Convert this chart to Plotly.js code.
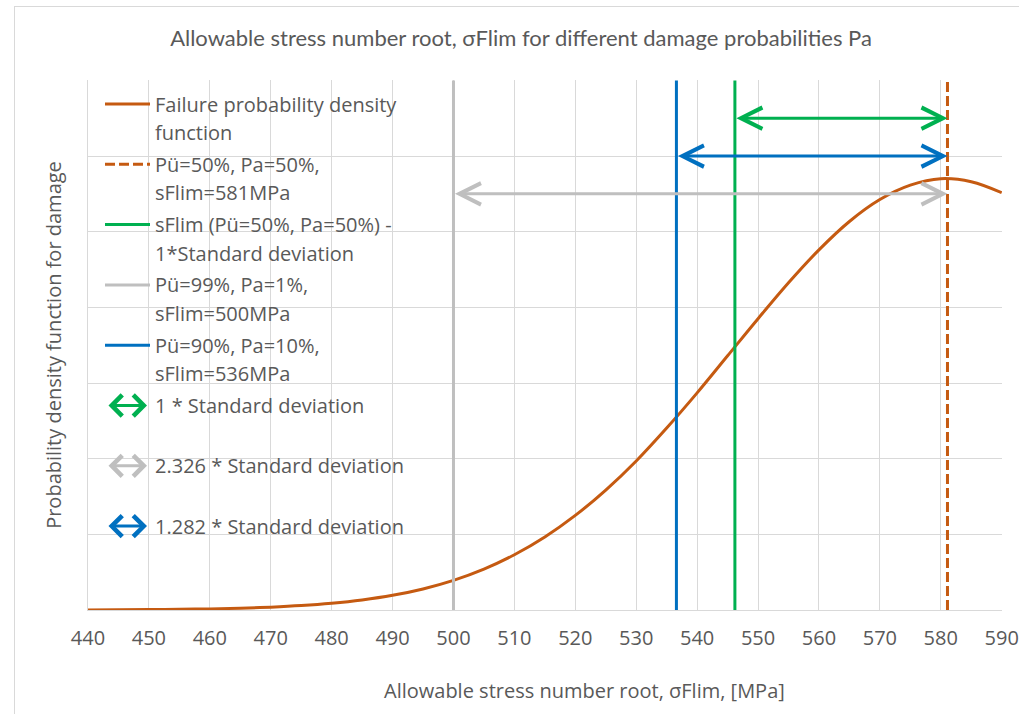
<!DOCTYPE html>
<html>
<head>
<meta charset="utf-8">
<script src="https://cdn.plot.ly/plotly-3.0.1.min.js"></script>
<style>
html, body { margin: 0; padding: 0; background: #ffffff; overflow: hidden; }
#chart { width: 1019px; height: 714px; }
#frame { position: absolute; left: 14px; top: 6px; width: 1100px; height: 800px; border: 1.5px solid #d9d9d9; pointer-events: none; }
</style>
</head>
<body>
<div id="chart"></div>
<div id="frame"></div>
<script>
// ---- data ----
const stressMPa = [440,445,450,455,460,465,470,475,480,485,490,495,500,505,510,515,520,525,530,535,540,545,550,555,560,565,570,575,580,585,590];
const densityValues = [0.000003,0.000006,0.000010,0.000018,0.000029,0.000047,0.000075,0.000116,0.000177,0.000265,0.000388,0.000557,0.000783,0.00108,0.00146,0.00193,0.00250,0.00317,0.00394,0.00481,0.00574,0.00672,0.00770,0.00865,0.00952,0.01027,0.01085,0.01123,0.01140,0.01132,0.01103];

const refLineNames = ["Pü=50%, Pa=50%, sFlim=581MPa", "sFlim (Pü=50%, Pa=50%) - 1*Standard deviation", "Pü=99%, Pa=1%, sFlim=500MPa", "Pü=90%, Pa=10%, sFlim=536MPa"];
const refLineX = [581.1, 546.2, 500.0, 536.6];
const refLineY = [0, 0.014];

const arrowNames = ["1 * Standard deviation", "1.282 * Standard deviation", "2.326 * Standard deviation"];
const arrowStartX = [546.2, 536.6, 500.0];
const arrowEndX = [581.1, 581.1, 581.1];
const arrowY = [0.013, 0.012, 0.011];

const xTickVals = [440,450,460,470,480,490,500,510,520,530,540,550,560,570,580,590];
const yGridVals = [0,0.002,0.004,0.006,0.008,0.010,0.012,0.014];

const legendLine1 = ["Failure probability density", "Pü=50%, Pa=50%,", "sFlim (Pü=50%, Pa=50%) -", "Pü=99%, Pa=1%,", "Pü=90%, Pa=10%,", "1 * Standard deviation", "2.326 * Standard deviation", "1.282 * Standard deviation"];
const legendLine2 = ["function", "sFlim=581MPa", "1*Standard deviation", "sFlim=500MPa", "sFlim=536MPa", "", "", ""];

const chartTitle = "Allowable stress number root, σFlim for different damage probabilities Pa";
const xTitle = "Allowable stress number root, σFlim, [MPa]";
const yTitle = "Probability density function for damage";

// ---- styles ----
const ORANGE = "#C55A11", GREEN = "#00B050", GRAY = "#BFBFBF", BLUE = "#0070C0";
const TEXT = "#595959", GRID = "#D9D9D9";
const FONT = "Open Sans, Noto Sans, sans-serif";
const refLineColors = [ORANGE, GREEN, GRAY, BLUE];
const refLineDash = ["10px,4px", "solid", "solid", "solid"];
const arrowColors = [GREEN, BLUE, GRAY];

const legendKinds = ["line","line","line","line","line","arrow","arrow","arrow"];
const legendColors = [ORANGE, ORANGE, GREEN, GRAY, BLUE, GREEN, GRAY, BLUE];
const legendDash = ["solid","10px,4px","solid","solid","solid","solid","solid","solid"];

// plot area in pixels
const L = 88, R = 1002, T = 80, B = 610, W = 1019, H = 714;
const px = v => (v - L) / (R - L);
const py = v => (B - v) / (B - T);

const traces = [{
  x: stressMPa, y: densityValues, type: "scatter", mode: "lines",
  name: "Failure probability density function",
  line: { color: ORANGE, width: 3, shape: "spline", smoothing: 1 },
  showlegend: false, hoverinfo: "x+y"
}];
refLineX.forEach((xv, i) => {
  traces.push({
    x: [xv, xv], y: refLineY, type: "scatter", mode: "lines", name: refLineNames[i],
    line: { color: refLineColors[i], width: 3, dash: refLineDash[i] },
    showlegend: false, hoverinfo: "name"
  });
});

const shapes = [];
const annotations = [];

// legend background
shapes.push({ type: "rect", xref: "paper", yref: "paper", x0: px(89), x1: px(421), y0: py(546), y1: py(86),
  fillcolor: "#ffffff", line: { width: 0 }, layer: "between" });

// data arrows
arrowY.forEach((yv, i) => {
  annotations.push({
    xref: "x", yref: "y", axref: "x", ayref: "y",
    x: arrowEndX[i], y: yv, ax: arrowStartX[i], ay: yv,
    text: "", showarrow: true, arrowside: "end+start",
    arrowhead: 5, startarrowhead: 5, arrowsize: 1.4, startarrowsize: 1.4,
    arrowwidth: 3, arrowcolor: arrowColors[i], standoff: 0, startstandoff: 0,
    font: { size: 1 }
  });
});

// manual legend
legendLine1.forEach((t, i) => {
  const rowY = 104 + i * 60.3;
  if (legendKinds[i] === "line") {
    shapes.push({ type: "line", xref: "paper", yref: "paper", x0: px(105), x1: px(150), y0: py(rowY), y1: py(rowY),
      line: { color: legendColors[i], width: 3, dash: legendDash[i] }, layer: "above" });
  } else {
    annotations.push({ xref: "paper", yref: "paper", x: px(147), y: py(rowY), ax: -40, ay: 0,
      text: "", showarrow: true, arrowside: "end+start", arrowhead: 4, startarrowhead: 4,
      arrowsize: 1.35, startarrowsize: 1.35, arrowwidth: 3, arrowcolor: legendColors[i],
      standoff: 0, startstandoff: 0, font: { size: 1 } });
  }
  annotations.push({ xref: "paper", yref: "paper", x: px(153), y: py(rowY), xanchor: "left", yanchor: "middle",
    text: t, showarrow: false, font: { family: FONT, size: 20, color: TEXT } });
  if (legendLine2[i]) {
    annotations.push({ xref: "paper", yref: "paper", x: px(153), y: py(rowY + 28.5), xanchor: "left", yanchor: "middle",
      text: legendLine2[i], showarrow: false, font: { family: FONT, size: 20, color: TEXT } });
  }
});

// x axis title (placed as in reference)
annotations.push({ xref: "paper", yref: "paper", x: px(584), y: py(690), xanchor: "center", yanchor: "middle",
  text: xTitle, showarrow: false, font: { family: FONT, size: 20, color: TEXT } });

const layout = {
  width: W, height: H,
  margin: { l: L, r: W - R, t: T, b: H - B, pad: 0 },
  paper_bgcolor: "#ffffff", plot_bgcolor: "#ffffff",
  showlegend: false,
  font: { family: FONT, color: TEXT, size: 20 },
  title: { text: chartTitle, font: { family: "Lato, Open Sans, sans-serif", size: 22, color: TEXT },
    xref: "container", x: 521 / W, xanchor: "center", yref: "container", y: 1 - 38 / H, yanchor: "middle" },
  xaxis: {
    range: [440, 590.05], tickmode: "array", tickvals: xTickVals,
    showgrid: true, gridcolor: GRID, gridwidth: 1,
    showline: true, linecolor: GRID, linewidth: 1, zeroline: false,
    ticks: "", ticklabelstandoff: 10, ticklabeloverflow: "allow",
    tickfont: { family: FONT, size: 20, color: TEXT }
  },
  yaxis: {
    range: [0, 0.01401], tickmode: "array", tickvals: yGridVals,
    showgrid: true, gridcolor: GRID, gridwidth: 1,
    showline: true, linecolor: GRID, linewidth: 1, zeroline: false,
    showticklabels: false, ticks: "",
    title: { text: yTitle, font: { family: FONT, size: 20, color: TEXT }, standoff: 20 }
  },
  shapes: shapes,
  annotations: annotations
};

Plotly.newPlot("chart", traces, layout, { displayModeBar: false, staticPlot: true });
</script>
</body>
</html>
